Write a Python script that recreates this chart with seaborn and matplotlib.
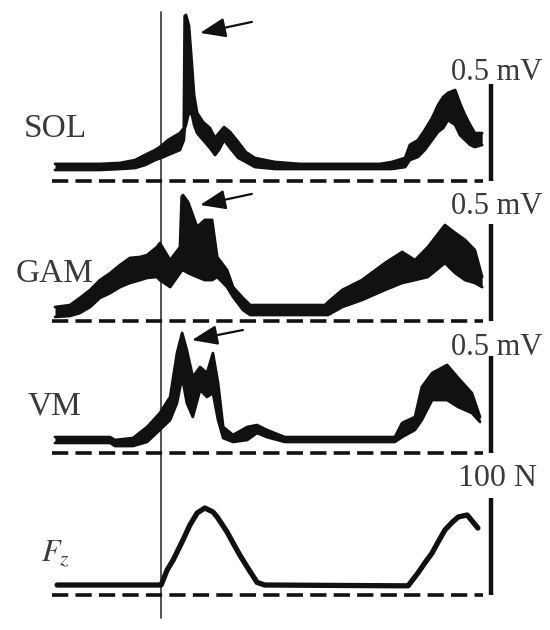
import matplotlib
matplotlib.use("Agg")
import matplotlib.pyplot as plt
import seaborn as sns

# time axis: % of stride, EMG in mV, vertical force in N
t_sol = [0, 10.5, 15.2, 18.7, 21, 23.4, 24.8, 26.4, 28, 29.2, 30.1, 30.3, 30.6, 31.3, 32, 32.5, 33.2,
         34.6, 36.2, 37.4, 38.3, 39.5, 40.9, 42.8, 44.6, 46.7, 49.1, 51.4, 57.2, 75.9, 78.7, 81.8,
         82.9, 84.8, 86.4, 88.1, 89.5, 90.7, 91.8, 93.5, 94.6, 95.8, 97, 98.1, 99.8]
sol_hi = [0.088, 0.088, 0.093, 0.108, 0.134, 0.160, 0.180, 0.211, 0.232, 0.247, 0.273, 0.850, 0.856,
          0.800, 0.598, 0.443, 0.351, 0.304, 0.273, 0.222, 0.247, 0.278, 0.253, 0.201, 0.149, 0.119,
          0.108, 0.098, 0.088, 0.088, 0.098, 0.119, 0.186, 0.211, 0.263, 0.325, 0.392, 0.433, 0.454,
          0.469, 0.402, 0.340, 0.289, 0.247, 0.247]
sol_lo = [0.057, 0.057, 0.062, 0.067, 0.082, 0.108, 0.119, 0.134, 0.149, 0.160, 0.211, 0.270, 0.289,
          0.356, 0.340, 0.289, 0.247, 0.211, 0.170, 0.134, 0.160, 0.211, 0.170, 0.119, 0.098, 0.072,
          0.067, 0.062, 0.062, 0.062, 0.062, 0.072, 0.108, 0.124, 0.160, 0.211, 0.253, 0.273, 0.314,
          0.289, 0.237, 0.211, 0.186, 0.175, 0.186]

t_gam = [0, 3.5, 5.8, 8.2, 10.5, 12.9, 15.2, 17.5, 19.9, 21.5, 23.8, 24.5, 26.9, 29.2, 29.6, 29.9,
         31.1, 33.2, 35, 36.7, 37.9, 40.2, 41.6, 43.9, 45.6, 63.1, 63.8, 67.1, 71.7, 77.1, 81.1,
         84.1, 87.1, 91.1, 93.5, 95.8, 98.1, 99.8]
gam_hi = [0.072, 0.082, 0.119, 0.160, 0.211, 0.247, 0.289, 0.325, 0.330, 0.340, 0.381, 0.402, 0.314,
          0.381, 0.640, 0.649, 0.613, 0.485, 0.521, 0.521, 0.330, 0.263, 0.175, 0.119, 0.082, 0.082,
          0.098, 0.160, 0.211, 0.299, 0.356, 0.314, 0.381, 0.495, 0.454, 0.418, 0.366, 0.227]
gam_lo = [0.021, 0.026, 0.041, 0.072, 0.119, 0.144, 0.175, 0.196, 0.211, 0.222, 0.227, 0.211, 0.175,
          0.247, 0.260, 0.263, 0.247, 0.227, 0.211, 0.211, 0.227, 0.175, 0.124, 0.057, 0.031, 0.031,
          0.031, 0.072, 0.108, 0.160, 0.196, 0.211, 0.227, 0.299, 0.247, 0.211, 0.196, 0.175]

t_vm = [0, 12.9, 14, 18.2, 21.5, 24.5, 26.9, 28.5, 29.7, 30.8, 32.2, 33.9, 35.5, 36.9, 38.1, 39.3,
        41.6, 44.9, 47.2, 49.5, 53.7, 79.4, 81.1, 84.1, 85.7, 88.1, 91.6, 94.2, 97.4, 99.3]
vm_hi = [0.082, 0.082, 0.067, 0.077, 0.134, 0.206, 0.289, 0.515, 0.619, 0.531, 0.392, 0.443, 0.412,
         0.515, 0.361, 0.134, 0.093, 0.134, 0.144, 0.119, 0.082, 0.082, 0.155, 0.186, 0.340, 0.412,
         0.454, 0.387, 0.309, 0.186]
vm_lo = [0.052, 0.052, 0.036, 0.036, 0.057, 0.119, 0.170, 0.258, 0.392, 0.258, 0.186, 0.325, 0.289,
         0.309, 0.170, 0.077, 0.057, 0.067, 0.103, 0.082, 0.057, 0.057, 0.082, 0.119, 0.170, 0.273,
         0.273, 0.237, 0.206, 0.160]

t_fz = [0.5, 24.8, 26.2, 27.6, 29.9, 31.5, 33.2, 35, 36.9, 37.9, 40.2, 41.6, 43.2, 44.9, 47.2, 49,
        80, 82.5, 84.8, 86.4, 88.1, 89.5, 91.1, 92.8, 94.2, 96.3, 97.7, 98.8]
fz = [10.3, 10.3, 25.8, 36, 56.7, 72, 84.5, 89.7, 85.6, 80.4, 65, 53.6, 41, 28.9, 13, 10.3, 9.5,
      9.5, 22.7, 33, 43.3, 54.6, 67, 75, 80.4, 82.5, 75, 69]

labels = ["SOL", "GAM", "VM", "$F_z$"]
scale_labels = ["0.5 mV", "0.5 mV", "0.5 mV", "100 N"]
scale_sizes = [0.5, 0.5, 0.5, 100]
contact = 24.8
base_x = [-0.7, 100]

INK = "#111111"
TXT = "#3a3a3a"

sns.set_style("white")
plt.rcParams['font.family'] = ['Liberation Serif', 'DejaVu Serif']
plt.rcParams['mathtext.fontset'] = 'stix'

W, H = 550, 630
fig = plt.figure(figsize=(5.5, 6.3), dpi=100)
X0, X1 = -12.85, 115.65


def panel(top, bot, base, gain):
    ax = fig.add_axes([0, 1 - bot / H, 1, (bot - top) / H])
    ax.set_xlim(X0, X1)
    ax.set_ylim(-(bot - base) / gain, (base - top) / gain)
    ax.set_axis_off()
    return ax


def emg(ax, t, lo, hi):
    ax.fill_between(t, lo, hi, color=INK, lw=0, clip_on=False, zorder=3)
    sns.lineplot(x=t, y=hi, ax=ax, color=INK, lw=2, estimator=None, sort=False, clip_on=False, zorder=3)
    sns.lineplot(x=t, y=lo, ax=ax, color=INK, lw=2, estimator=None, sort=False, clip_on=False, zorder=3)


ax_sol = panel(0, 190, 181, 194)
ax_gam = panel(190, 330, 321, 194)
ax_vm = panel(330, 465, 453, 194)
ax_fz = panel(465, 630, 595, 0.97)
axes = [ax_sol, ax_gam, ax_vm, ax_fz]

emg(ax_sol, t_sol, sol_lo, sol_hi)
emg(ax_gam, t_gam, gam_lo, gam_hi)
emg(ax_vm, t_vm, vm_lo, vm_hi)
sns.lineplot(x=t_fz, y=fz, ax=ax_fz, color=INK, lw=3.8, estimator=None, sort=False, clip_on=False, zorder=3)

name_y = [0.268, 0.242, 0.242, 42.8]
label_y = [0.56, 0.588, 0.546, 119.6]
for i, ax in enumerate(axes):
    ax.plot(base_x, [0, 0], color=INK, lw=2.6, ls=(0, (4.5, 2)), zorder=2, clip_on=False)
    ax.plot([101.9, 101.9], [0, scale_sizes[i]], color=INK, lw=3.2, solid_capstyle="butt", clip_on=False)
    ax.text(103.3, label_y[i], scale_labels[i], ha="center", va="center", color=TXT,
            fontsize=23 if i == 3 else 22)
    ax.text(0, name_y[i], labels[i], ha="center", va="center", color=TXT,
            fontsize=22 if i == 3 else 24)

# stance onset line
ax_sol.axvline(contact, ymin=0, ymax=0.937, color="#444444", lw=1.3, zorder=1)
ax_gam.axvline(contact, color="#444444", lw=1.3, zorder=1)
ax_vm.axvline(contact, color="#444444", lw=1.3, zorder=1)
ax_fz.axvline(contact, ymin=0.073, ymax=1, color="#444444", lw=1.3, zorder=1)

arrow = dict(arrowstyle="-|>,head_length=1.3,head_width=0.5", color=INK, lw=1.6,
             mutation_scale=12, shrinkA=0, shrinkB=0)
ax_sol.annotate("", xy=(33.9, 0.763), xytext=(46, 0.82), arrowprops=arrow)
ax_gam.annotate("", xy=(33.9, 0.598), xytext=(46, 0.655), arrowprops=arrow)
ax_vm.annotate("", xy=(32, 0.582), xytext=(43.9, 0.634), arrowprops=arrow)

fig.savefig("out.png", dpi=100)
